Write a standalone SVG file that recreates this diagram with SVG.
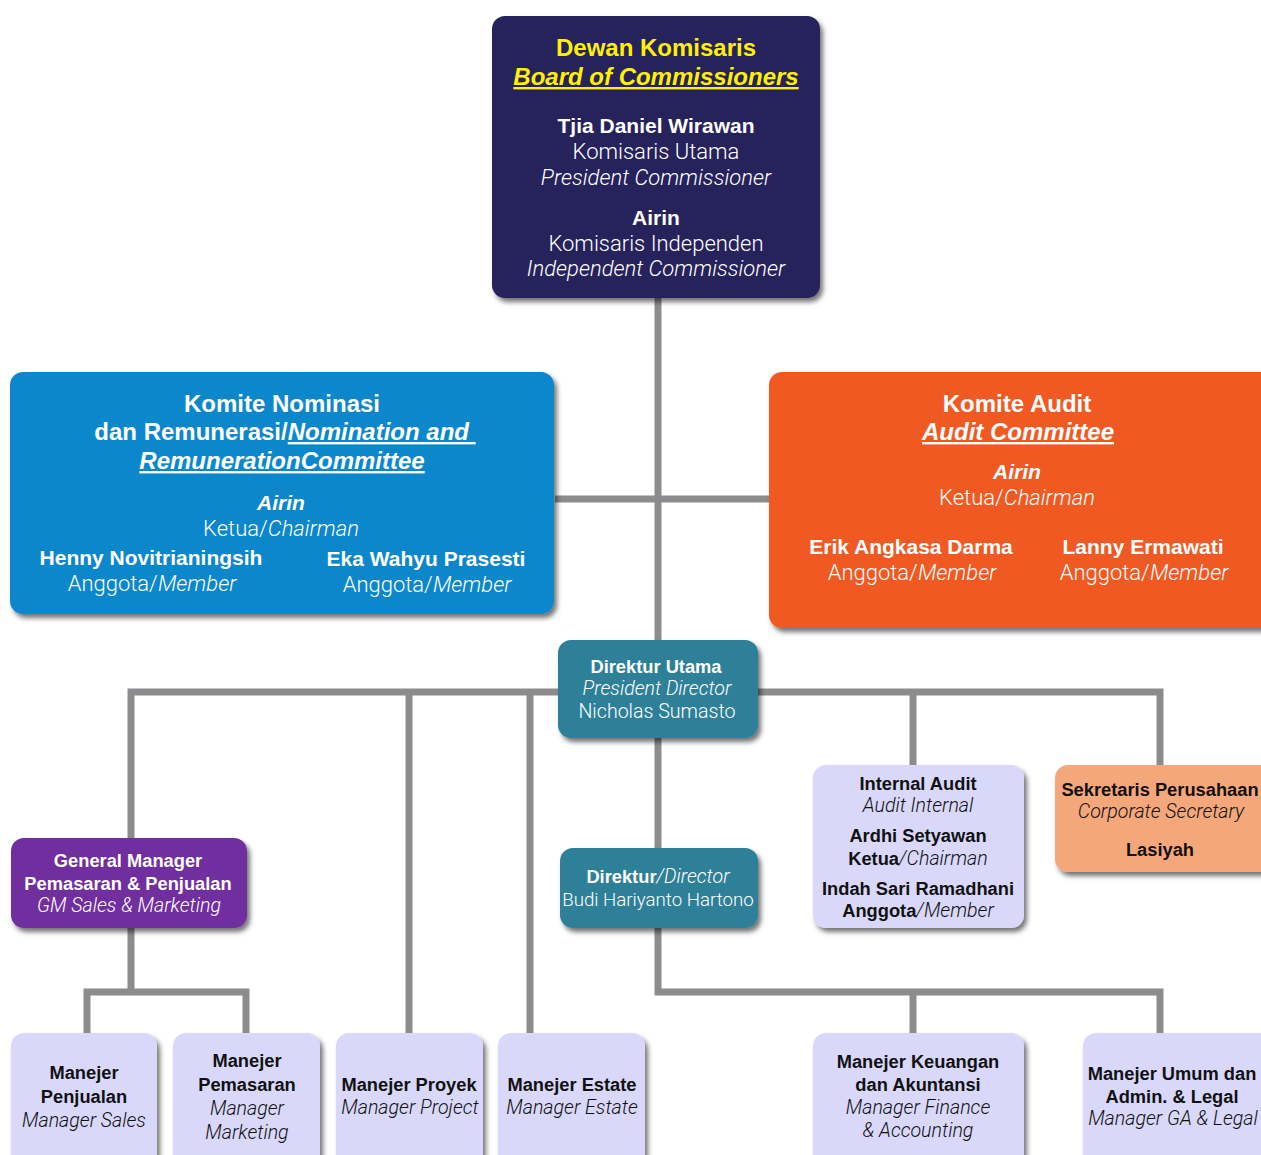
<svg xmlns="http://www.w3.org/2000/svg" width="1261" height="1155" viewBox="0 0 1261 1155">
<style>
text{font-family:"Liberation Sans",Arial,sans-serif;text-anchor:middle}
.b{font-weight:bold}
.l{font-family:Roboto,"Liberation Sans",sans-serif;font-weight:300}
.i{font-style:italic}
.u{text-decoration:underline}
.w{fill:#ffffff}
.y{fill:#fff200}
.k{fill:#111111}
.T{font-size:24px}
.B{font-size:21px}
.L{font-size:22px}
.sb{font-size:18.3px}
.sl{font-size:19.6px}
.c{fill:none;stroke:#8c8c8e;stroke-width:7}
</style>
<defs>
<filter id="sh" x="-10%" y="-10%" width="125%" height="130%">
<feDropShadow dx="3" dy="4" stdDeviation="2.5" flood-color="#000" flood-opacity="0.55"/>
</filter>
</defs>
<rect width="1261" height="1155" fill="#ffffff"/>
<g id="connectors">
<path class="c" d="M658 298V640M555 499H769"/>
<path class="c" d="M131 838V692H1160V765M409 692V1033M530 692V1033M913 692V765"/>
<path class="c" d="M658 738V848M658 928V992H1160V1033M913 992V1033"/>
<path class="c" d="M131 928V992M87 1033V992H246V1033"/>
</g>
<g id="board">
<rect x="492" y="16" width="328" height="282" rx="13" fill="#27235c" filter="url(#sh)"/>
<text x="656" y="56" class="b y T">Dewan Komisaris</text>
<text x="656" y="85" class="b i u y T">Board of Commissioners</text>
<text x="656" y="133" class="b w B">Tjia Daniel Wirawan</text>
<text x="656" y="159" class="l w L">Komisaris Utama</text>
<text x="656" y="185" class="l i w L">President Commissioner</text>
<text x="656" y="225" class="b w B">Airin</text>
<text x="656" y="251" class="l w L">Komisaris Independen</text>
<text x="656" y="276" class="l i w L">Independent Commissioner</text>
</g>
<g id="nominasi">
<rect x="10" y="372" width="544" height="242" rx="13" fill="#0a87cc" filter="url(#sh)"/>
<text x="282" y="412" class="b w T">Komite Nominasi</text>
<text x="285" y="440" class="b w T" xml:space="preserve">dan Remunerasi/<tspan class="i u">Nomination and </tspan></text>
<text x="282" y="469" class="b i u w T">RemunerationCommittee</text>
<text x="281" y="510" class="b i w B">Airin</text>
<text x="281" y="536" class="l w L">Ketua/<tspan class="i">Chairman</tspan></text>
<text x="151" y="565" class="b w B">Henny Novitrianingsih</text>
<text x="152" y="591" class="l w L">Anggota/<tspan class="i">Member</tspan></text>
<text x="426" y="566" class="b w B">Eka Wahyu Prasesti</text>
<text x="427" y="592" class="l w L">Anggota/<tspan class="i">Member</tspan></text>
</g>
<g id="audit-committee">
<rect x="769" y="372" width="510" height="256" rx="13" fill="#f05a24" filter="url(#sh)"/>
<text x="1017" y="412" class="b w T">Komite Audit</text>
<text x="1018" y="440" class="b i u w T">Audit Committee</text>
<text x="1017" y="479" class="b i w B">Airin</text>
<text x="1017" y="505" class="l w L">Ketua/<tspan class="i">Chairman</tspan></text>
<text x="911" y="554" class="b w B">Erik Angkasa Darma</text>
<text x="912" y="580" class="l w L">Anggota/<tspan class="i">Member</tspan></text>
<text x="1143" y="554" class="b w B">Lanny Ermawati</text>
<text x="1144" y="580" class="l w L">Anggota/<tspan class="i">Member</tspan></text>
</g>
<g id="direktur-utama">
<rect x="558" y="640" width="200" height="98" rx="13" fill="#2e8099" filter="url(#sh)"/>
<text x="656" y="673" class="b w sb">Direktur Utama</text>
<text x="657" y="695" class="l i w sl">President Director</text>
<text x="657" y="718" class="l w sl">Nicholas Sumasto</text>
</g>
<g id="internal-audit">
<rect x="813" y="765" width="211" height="163" rx="13" fill="#d9d8fb" filter="url(#sh)"/>
<text x="918" y="790" class="b k sb">Internal Audit</text>
<text x="918" y="812" class="l i k sl">Audit Internal</text>
<text x="918" y="842" class="b k sb">Ardhi Setyawan</text>
<text x="918" y="865" class="b k sb">Ketua<tspan class="l i sl">/Chairman</tspan></text>
<text x="918" y="895" class="b k sb">Indah Sari Ramadhani</text>
<text x="918" y="917" class="b k sb">Anggota<tspan class="l i sl">/Member</tspan></text>
</g>
<g id="sekretaris">
<rect x="1055" y="765" width="220" height="107" rx="13" fill="#f5a77c" filter="url(#sh)"/>
<text x="1160" y="796" class="b k sb">Sekretaris Perusahaan</text>
<text x="1161" y="818" class="l i k sl">Corporate Secretary</text>
<text x="1160" y="856" class="b k sb">Lasiyah</text>
</g>
<g id="gm">
<rect x="11" y="838" width="236" height="90" rx="13" fill="#6f2f9e" filter="url(#sh)"/>
<text x="128" y="867" class="b w sb">General Manager</text>
<text x="128" y="890" class="b w sb">Pemasaran &amp; Penjualan</text>
<text x="129" y="912" class="l i w sl">GM Sales &amp; Marketing</text>
</g>
<g id="direktur">
<rect x="560" y="848" width="198" height="80" rx="13" fill="#2e8099" filter="url(#sh)"/>
<text x="658" y="883" class="b w sb">Direktur<tspan class="l i sl">/Director</tspan></text>
<text x="658" y="906" class="l w" font-size="18.7">Budi Hariyanto Hartono</text>
</g>
<g id="mgr-penjualan">
<rect x="11" y="1033" width="146" height="140" rx="13" fill="#d9d8fb" filter="url(#sh)"/>
<text x="84" y="1079" class="b k sb">Manejer</text>
<text x="84" y="1103" class="b k sb">Penjualan</text>
<text x="84" y="1127" class="l i k sl">Manager Sales</text>
</g>
<g id="mgr-pemasaran">
<rect x="173" y="1033" width="147" height="140" rx="13" fill="#d9d8fb" filter="url(#sh)"/>
<text x="247" y="1067" class="b k sb">Manejer</text>
<text x="247" y="1091" class="b k sb">Pemasaran</text>
<text x="247" y="1115" class="l i k sl">Manager</text>
<text x="247" y="1139" class="l i k sl">Marketing</text>
</g>
<g id="mgr-proyek">
<rect x="336" y="1033" width="147" height="140" rx="13" fill="#d9d8fb" filter="url(#sh)"/>
<text x="409" y="1091" class="b k sb">Manejer Proyek</text>
<text x="410" y="1114" class="l i k sl">Manager Project</text>
</g>
<g id="mgr-estate">
<rect x="498" y="1033" width="147" height="140" rx="13" fill="#d9d8fb" filter="url(#sh)"/>
<text x="572" y="1091" class="b k sb">Manejer Estate</text>
<text x="572" y="1114" class="l i k sl">Manager Estate</text>
</g>
<g id="mgr-keuangan">
<rect x="813" y="1033" width="211" height="140" rx="13" fill="#d9d8fb" filter="url(#sh)"/>
<text x="918" y="1068" class="b k sb">Manejer Keuangan</text>
<text x="918" y="1091" class="b k sb">dan Akuntansi</text>
<text x="918" y="1114" class="l i k sl">Manager Finance</text>
<text x="918" y="1137" class="l i k sl">&amp; Accounting</text>
</g>
<g id="mgr-umum">
<rect x="1083" y="1033" width="200" height="140" rx="13" fill="#d9d8fb" filter="url(#sh)"/>
<text x="1172" y="1080" class="b k sb">Manejer Umum dan</text>
<text x="1172" y="1103" class="b k sb">Admin. &amp; Legal</text>
<text x="1173" y="1125" class="l i k sl">Manager GA &amp; Legal</text>
</g>
</svg>
